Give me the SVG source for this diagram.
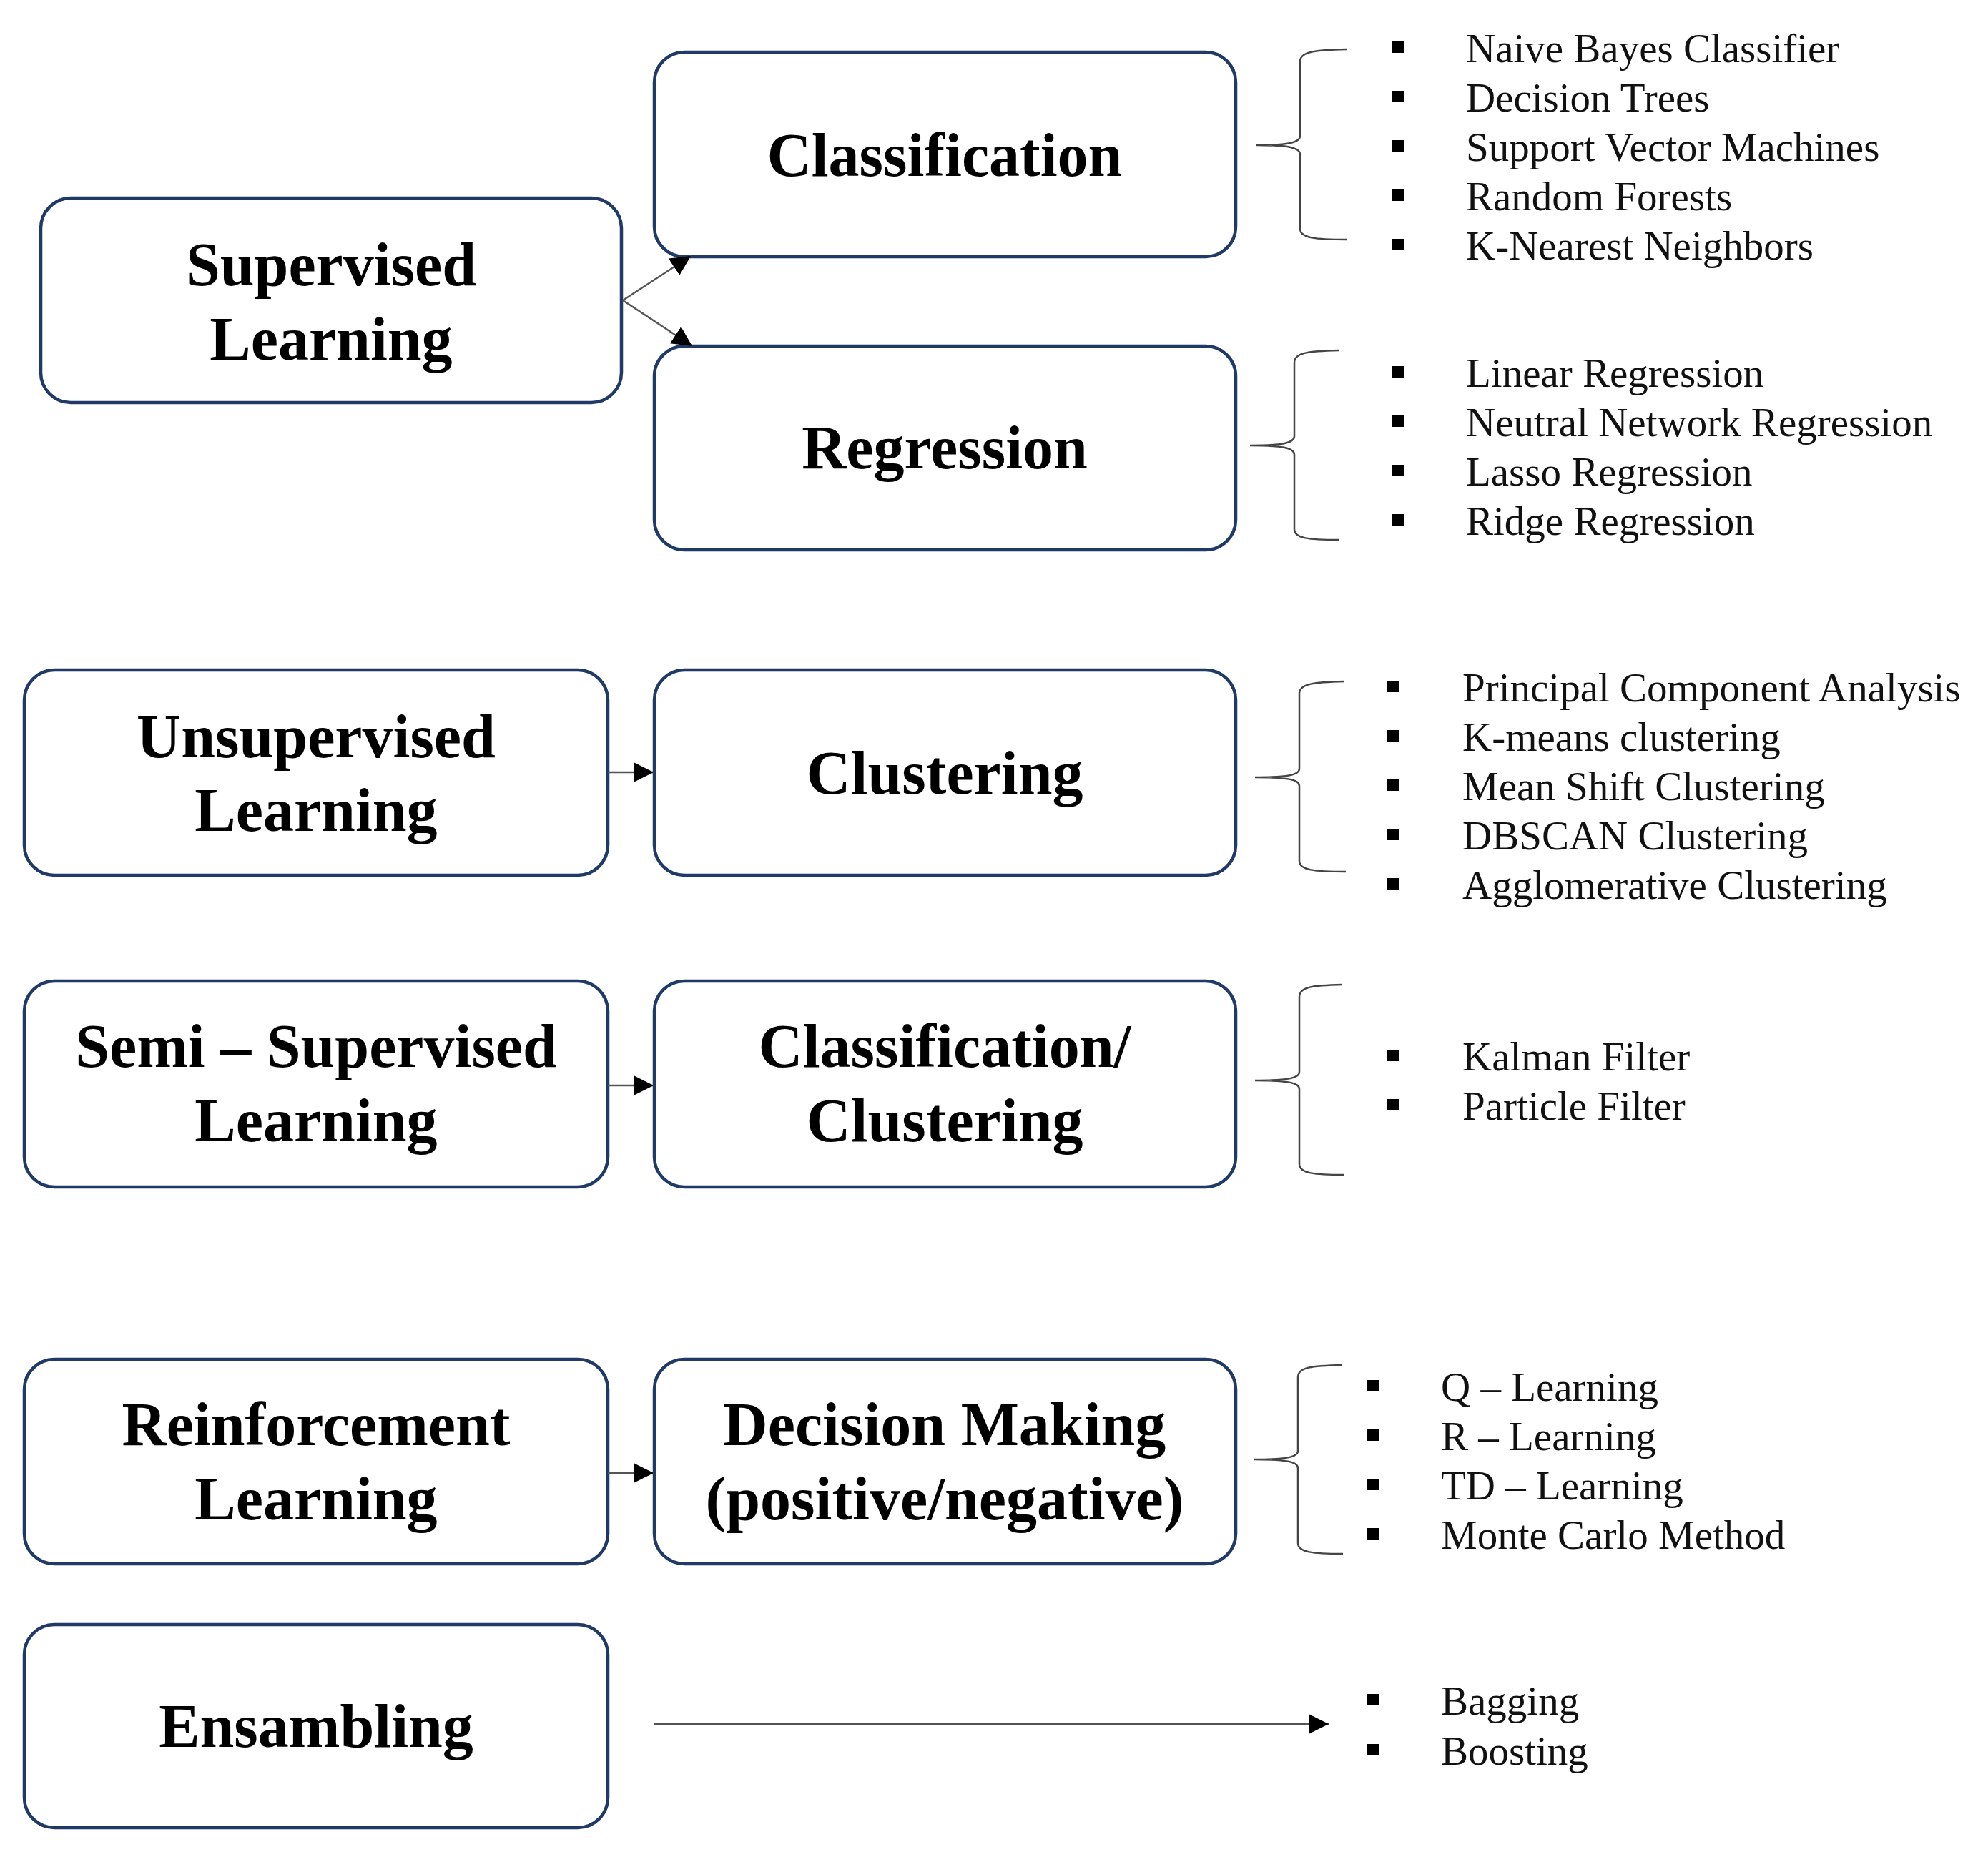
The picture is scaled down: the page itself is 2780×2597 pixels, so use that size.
<svg xmlns="http://www.w3.org/2000/svg" width="2780" height="2597" viewBox="0 0 2780 2597">
<defs>
<marker id="ah" viewBox="0 0 10 10" refX="10" refY="5" markerWidth="28" markerHeight="28" markerUnits="userSpaceOnUse" orient="auto">
<path d="M0,0 L10,5 L0,10 Z" fill="#000"/>
</marker>
<style>
.box{fill:#fff;stroke:#1f3a66;stroke-width:4.5}
.lbl{font-family:"Liberation Serif","Times New Roman",serif;font-weight:bold;font-size:86px;fill:#000;text-anchor:middle}
.item{font-family:"Liberation Serif","Times New Roman",serif;font-size:57px;fill:#111}
.brace{fill:none;stroke:#444;stroke-width:2.5}
.conn{fill:none;stroke:#555;stroke-width:2.5;marker-end:url(#ah)}
.bul{fill:#000}
</style>
</defs>
<rect width="2780" height="2597" fill="#fff"/>

<g id="node-supervised">
<rect class="box" x="57" y="277" width="812" height="286" rx="42"/>
<text class="lbl" x="463" y="399">Supervised</text>
<text class="lbl" x="463" y="503">Learning</text>
</g>
<g id="node-classification">
<rect class="box" x="915" y="73" width="813" height="286" rx="42"/>
<text class="lbl" x="1321" y="246">Classification</text>
</g>
<g id="node-regression">
<rect class="box" x="915" y="484" width="813" height="285" rx="42"/>
<text class="lbl" x="1321" y="655">Regression</text>
</g>
<g id="node-unsupervised">
<rect class="box" x="34" y="937" width="816" height="287" rx="42"/>
<text class="lbl" x="442" y="1059">Unsupervised</text>
<text class="lbl" x="442" y="1162">Learning</text>
</g>
<g id="node-clustering">
<rect class="box" x="915" y="937" width="813" height="287" rx="42"/>
<text class="lbl" x="1321" y="1110">Clustering</text>
</g>
<g id="node-semi">
<rect class="box" x="34" y="1372" width="816" height="288" rx="42"/>
<text class="lbl" x="442" y="1492">Semi – Supervised</text>
<text class="lbl" x="442" y="1596">Learning</text>
</g>
<g id="node-classclust">
<rect class="box" x="915" y="1372" width="813" height="288" rx="42"/>
<text class="lbl" x="1321" y="1492">Classification/</text>
<text class="lbl" x="1321" y="1596">Clustering</text>
</g>
<g id="node-reinforcement">
<rect class="box" x="34" y="1901" width="816" height="286" rx="42"/>
<text class="lbl" x="442" y="2021">Reinforcement</text>
<text class="lbl" x="442" y="2125">Learning</text>
</g>
<g id="node-decision">
<rect class="box" x="915" y="1901" width="813" height="286" rx="42"/>
<text class="lbl" x="1321" y="2021">Decision Making</text>
<text class="lbl" x="1321" y="2125">(positive/negative)</text>
</g>
<g id="node-ensambling">
<rect class="box" x="34" y="2272" width="816" height="284" rx="42"/>
<text class="lbl" x="442" y="2443">Ensambling</text>
</g>

<g id="connectors">
<line class="conn" x1="871" y1="420" x2="966" y2="358"/>
<line class="conn" x1="871" y1="420" x2="968" y2="484"/>
<line class="conn" x1="850" y1="1080" x2="914" y2="1080"/>
<line class="conn" x1="850" y1="1518" x2="914" y2="1518"/>
<line class="conn" x1="850" y1="2060" x2="914" y2="2060"/>
<line class="conn" x1="915" y1="2411" x2="1858" y2="2411"/>
</g>

<g id="braces">
<path class="brace" d="M1883,69 C1840,70 1818,72 1818,86 L1818,190 C1818,200 1800,203 1757,203 C1800,203 1818,206 1818,216 L1818,320 C1818,333 1840,335 1883,335"/>
<path class="brace" d="M1872,490 C1830,491 1810,493 1810,507 L1810,610 C1810,620 1792,623 1748,623 C1792,623 1810,626 1810,636 L1810,740 C1810,753 1830,755 1872,755"/>
<path class="brace" d="M1880,953 C1838,954 1817,956 1817,970 L1817,1075 C1817,1084 1800,1087 1755,1087 C1800,1087 1817,1090 1817,1099 L1817,1204 C1817,1217 1838,1219 1882,1219"/>
<path class="brace" d="M1877,1377 C1836,1378 1817,1380 1817,1394 L1817,1499 C1817,1508 1800,1511 1755,1511 C1800,1511 1817,1514 1817,1523 L1817,1628 C1817,1641 1838,1643 1880,1643"/>
<path class="brace" d="M1877,1909 C1834,1910 1815,1912 1815,1926 L1815,2029 C1815,2038 1798,2041 1753,2041 C1798,2041 1815,2044 1815,2053 L1815,2158 C1815,2171 1836,2173 1878,2173"/>
</g>

<g id="list-classification">
<rect class="bul" x="1947" y="58" width="16" height="16"/>
<rect class="bul" x="1947" y="127" width="16" height="16"/>
<rect class="bul" x="1947" y="196" width="16" height="16"/>
<rect class="bul" x="1947" y="265" width="16" height="16"/>
<rect class="bul" x="1947" y="334" width="16" height="16"/>
<text class="item" x="2050" y="87">Naive Bayes Classifier</text>
<text class="item" x="2050" y="156">Decision Trees</text>
<text class="item" x="2050" y="225">Support Vector Machines</text>
<text class="item" x="2050" y="294">Random Forests</text>
<text class="item" x="2050" y="363">K-Nearest Neighbors</text>
</g>
<g id="list-regression">
<rect class="bul" x="1947" y="512" width="16" height="16"/>
<rect class="bul" x="1947" y="581" width="16" height="16"/>
<rect class="bul" x="1947" y="650" width="16" height="16"/>
<rect class="bul" x="1947" y="719" width="16" height="16"/>
<text class="item" x="2050" y="541">Linear Regression</text>
<text class="item" x="2050" y="610">Neutral Network Regression</text>
<text class="item" x="2050" y="679">Lasso Regression</text>
<text class="item" x="2050" y="748">Ridge Regression</text>
</g>
<g id="list-clustering">
<rect class="bul" x="1940" y="952" width="16" height="16"/>
<rect class="bul" x="1940" y="1021" width="16" height="16"/>
<rect class="bul" x="1940" y="1090" width="16" height="16"/>
<rect class="bul" x="1940" y="1159" width="16" height="16"/>
<rect class="bul" x="1940" y="1228" width="16" height="16"/>
<text class="item" x="2045" y="981">Principal Component Analysis</text>
<text class="item" x="2045" y="1050">K-means clustering</text>
<text class="item" x="2045" y="1119">Mean Shift Clustering</text>
<text class="item" x="2045" y="1188">DBSCAN Clustering</text>
<text class="item" x="2045" y="1257">Agglomerative Clustering</text>
</g>
<g id="list-semi">
<rect class="bul" x="1940" y="1468" width="16" height="16"/>
<rect class="bul" x="1940" y="1537" width="16" height="16"/>
<text class="item" x="2045" y="1497">Kalman Filter</text>
<text class="item" x="2045" y="1566">Particle Filter</text>
</g>
<g id="list-reinforcement">
<rect class="bul" x="1912" y="1930" width="16" height="16"/>
<rect class="bul" x="1912" y="1999" width="16" height="16"/>
<rect class="bul" x="1912" y="2068" width="16" height="16"/>
<rect class="bul" x="1912" y="2137" width="16" height="16"/>
<text class="item" x="2015" y="1959">Q – Learning</text>
<text class="item" x="2015" y="2028">R – Learning</text>
<text class="item" x="2015" y="2097">TD – Learning</text>
<text class="item" x="2015" y="2166">Monte Carlo Method</text>
</g>
<g id="list-ensambling">
<rect class="bul" x="1912" y="2369" width="16" height="16"/>
<rect class="bul" x="1912" y="2439" width="16" height="16"/>
<text class="item" x="2015" y="2398">Bagging</text>
<text class="item" x="2015" y="2468">Boosting</text>
</g>
</svg>
